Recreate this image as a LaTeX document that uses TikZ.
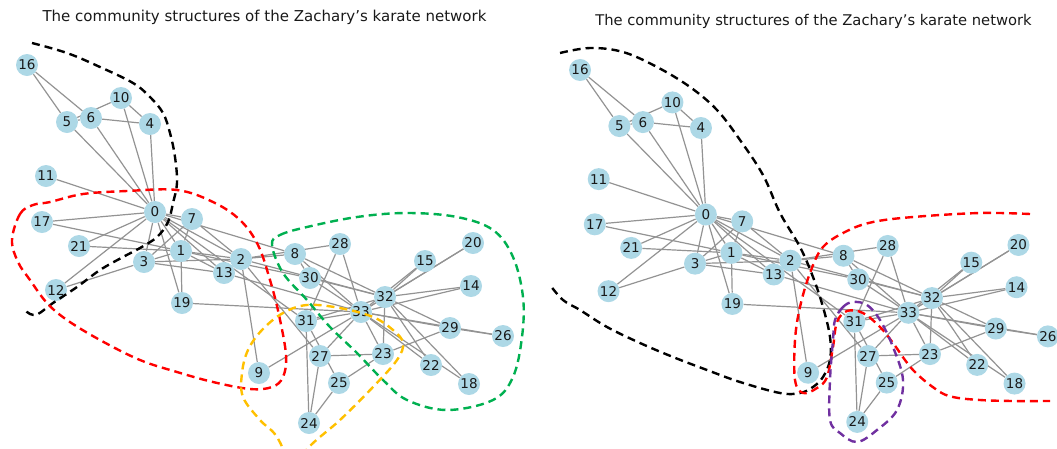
\documentclass[tikz,border=0pt]{standalone}
\usepackage{fontspec}
\setmainfont{DejaVu Sans}
\definecolor{nodeblue}{HTML}{ADD8E6}
\definecolor{edgegray}{HTML}{939393}
\definecolor{cgreen}{HTML}{00B050}
\definecolor{cyellow}{HTML}{FFC000}
\definecolor{cpurple}{HTML}{7030A0}
\definecolor{cred}{HTML}{FF0000}
\pgfdeclarelayer{bg}
\pgfsetlayers{bg,main}
\tikzset{
  vtx/.style={circle, fill=nodeblue, minimum size=22pt, inner sep=0pt,
    font=\fontsize{13.5}{13.5}\selectfont, text=black!90},
  lnk/.style={draw=edgegray, line width=1.2pt},
  comm/.style={line width=2.4pt, dash pattern=on 8pt off 5pt},
  ttl/.style={font=\fontsize{15}{18}\selectfont, text=black!90},
}
\newcommand\karategraph[1]{%
  \foreach \i/\px/\py in {0/155/212,1/181/251,2/241/259,3/144/262,4/150/124,5/67/122,6/91/118,7/192/219,8/295/254,9/259/373,10/121/98,11/46/176,12/56/290,13/224/273,14/471/286,15/425/261,16/27/65,17/42/222,18/469/384,19/182/303,20/473/243,21/79/246,22/431/365,23/383/354,24/309/423,25/339/383,26/503/336,27/320/356,28/340/244,29/450/328,30/310/278,31/306/321,32/385/297,33/361/312}
    {\node[vtx] (#1\i) at (\px,\py) {\i};}
  \begin{pgfonlayer}{bg}
  \foreach \a/\b in {0/1,0/2,0/3,0/4,0/5,0/6,0/7,0/8,0/10,0/11,0/12,0/13,0/17,0/19,0/21,0/31,1/2,1/3,1/7,1/13,1/17,1/19,1/21,1/30,2/3,2/7,2/8,2/9,2/13,2/27,2/28,2/32,3/7,3/12,3/13,4/6,4/10,5/6,5/10,5/16,6/16,8/30,8/32,8/33,9/33,13/33,14/32,14/33,15/32,15/33,18/32,18/33,19/33,20/32,20/33,22/32,22/33,23/25,23/27,23/29,23/32,23/33,24/25,24/27,24/31,25/31,26/29,26/33,27/33,28/31,28/33,29/32,29/33,30/32,30/33,31/32,31/33,32/33}
    {\draw[lnk] (#1\a) -- (#1\b);}
  \end{pgfonlayer}
}
\begin{document}
\begin{tikzpicture}[x=1pt,y=-1pt]
\useasboundingbox (0,0) rectangle (1057,448);
\clip (0,0) rectangle (1057,448);
% titles
\node[ttl] (titleL) at (264.5,17) {The community structures of the Zachary’s karate network};
\node[ttl, font=\fontsize{14.75}{18}\selectfont] (titleR) at (813.5,21) {The community structures of the Zachary’s karate network};
% left panel
\begin{scope}
  \karategraph{a}
\end{scope}
% right panel
\begin{scope}[shift={(553.5,6.1)}, scale=0.983]
  \karategraph{b}
\end{scope}
% left communities
\draw[comm, black] plot[smooth, tension=0.6] coordinates {(32,43) (67,53) (100,67) (133,83) (150,97) (163,113) (170,133) (175,157) (177,183) (173,203) (168,222) (157,237) (140,248) (123,257) (100,270) (77,287) (53,303) (38,314) (30,314) (25,310)};
\draw[comm, cred] plot[smooth cycle, tension=0.6] coordinates {(12,240) (20,214) (33,205) (50,202) (83,194) (127,191) (177,190) (213,202) (240,220) (258,245) (270,280) (279,315) (286,355) (283,377) (272,387) (250,389) (213,382) (177,372) (140,360) (100,340) (67,320) (47,303) (30,280) (18,262)};
\draw[comm, cgreen] plot[smooth cycle, tension=0.6] coordinates {(272,245) (280,235) (307,227) (357,217) (407,213) (457,217) (493,230) (513,257) (523,297) (522,337) (513,377) (493,400) (447,410) (407,400) (383,380) (357,353) (330,327) (307,300) (283,273)};
\draw[comm, cyellow] plot[smooth, tension=0.6] coordinates {(292,470) (277,437) (260,420) (243,397) (242,373) (248,350) (262,330) (283,313) (307,305) (340,308) (373,317) (393,330) (403,343) (397,360) (373,387) (340,420) (310,446) (292,470)};
% right communities
\draw[comm, black] plot[smooth, tension=0.6] coordinates {(560,53) (590,48) (623,52) (657,67) (690,87) (717,110) (740,140) (763,175) (780,213) (800,247) (813,277) (823,307) (830,337) (830,360) (823,377) (813,387) (800,393) (780,393) (740,382) (707,370) (673,357) (640,343) (607,327) (580,310) (563,300) (550,285)};
\draw[comm, cred] plot[smooth, tension=0.6] coordinates {(1030,214) (980,213) (913,217) (873,222) (847,231) (823,247) (810,273) (800,307) (795,340) (795,380) (803,393) (817,388) (827,377) (833,347) (837,322) (847,311) (863,313) (880,327) (893,343) (913,370) (937,390) (953,397) (980,400) (1013,401) (1050,401)};
\draw[comm, cpurple] plot[smooth cycle, tension=0.6] coordinates {(835,320) (843,307) (853,302) (867,305) (880,320) (893,347) (903,380) (897,410) (877,430) (857,442) (840,433) (830,420) (830,380) (833,340)};
\end{tikzpicture}
\end{document}
